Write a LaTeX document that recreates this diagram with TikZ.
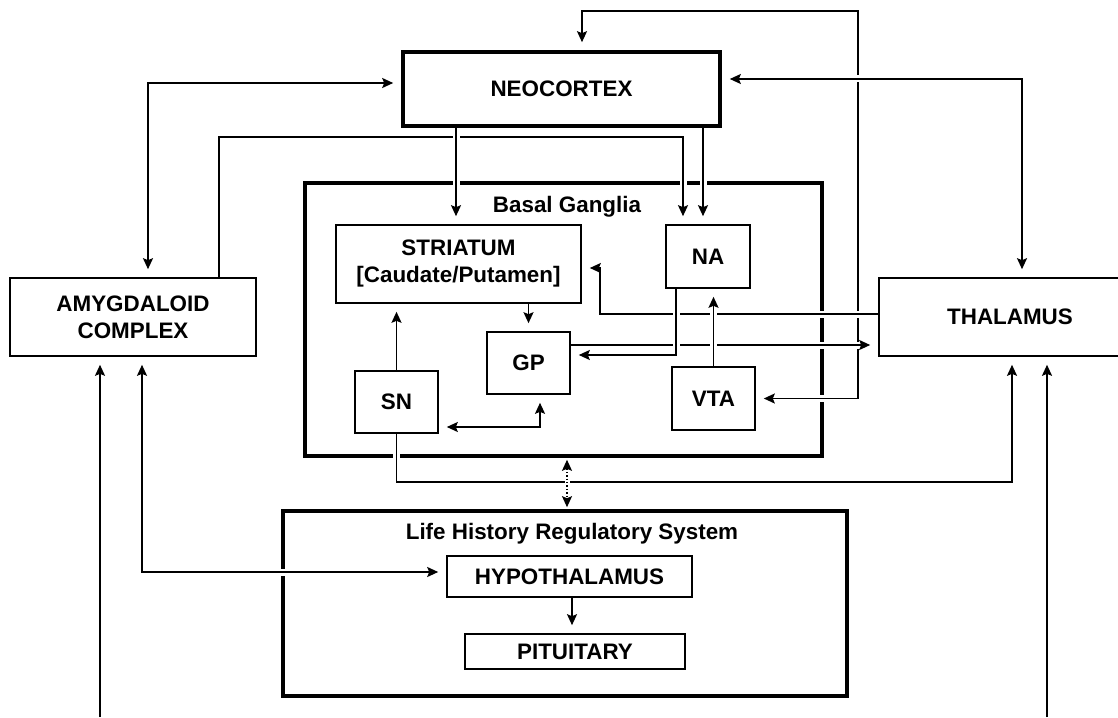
\documentclass[tikz,border=0pt]{standalone}
\usepackage{fontspec}
\setmainfont{Liberation Sans}
\usetikzlibrary{arrows.meta}

\begin{document}
\begin{tikzpicture}[x=0.5pt,y=-0.5pt,
    box/.style={draw,line width=0.8pt,inner sep=0pt,align=center,font=\bfseries\fontsize{11.2}{13.5}\selectfont},
    frame/.style={draw,line width=1.8pt,inner sep=0pt},
    lbl/.style={anchor=base,font=\bfseries\fontsize{11.2}{13.5}\selectfont},
    tip/.tip={Stealth[length=5.5pt,width=5pt,inset=1pt]},
    conn/.style={line width=0.9pt,-tip,shorten >=4pt,
        preaction={draw=white,line width=3.5pt,-,shorten >=4pt,shorten <=1.5pt}},
    both/.style={conn,tip-tip,shorten <=4pt}]

\useasboundingbox (0,0) rectangle (1118,717);
\clip (0,0) rectangle (1118,717);

% boxes
\node[box,line width=1.8pt,minimum width=158.5pt,minimum height=37pt] (nc) at (561.5,89) {NEOCORTEX};

\node[frame,minimum width=258.5pt,minimum height=136.5pt] (bg) at (563.5,319.5) {};
\node[lbl] (bgl) at (567,212) {Basal Ganglia};
\node[box,minimum width=122.5pt,minimum height=39pt] (str) at (458.5,264) {STRIATUM\\{[}Caudate/Putamen]};
\node[box,minimum width=42pt,minimum height=31.5pt] (na) at (708,256.5) {NA};
\node[box,minimum width=41.5pt,minimum height=31pt] (gp) at (528.5,363) {GP};
\node[box,minimum width=41.5pt,minimum height=31pt] (sn) at (396.5,402) {SN};
\node[box,minimum width=41.5pt,minimum height=31.5pt] (vta) at (713.5,398.5) {VTA};

\node[box,minimum width=123pt,minimum height=39pt] (amy) at (133,317) {AMYGDALOID\\COMPLEX};
\node[box,minimum width=131pt,minimum height=39pt] (thal) at (1010,317) {THALAMUS};

\node[frame,minimum width=282pt,minimum height=92.5pt] (lh) at (565,603.5) {};
\node[lbl] (lhl) at (572,539) {Life History Regulatory System};
\node[box,minimum width=122.5pt,minimum height=20.5pt] (hyp) at (569.5,576.5) {HYPOTHALAMUS};
\node[box,minimum width=110pt,minimum height=17.5pt] (pit) at (575,651.5) {PITUITARY};

% bends
\coordinate (loopR) at (858,11);
\coordinate (loopL) at (582,11);
\coordinate (ncR) at (1022,79);
\coordinate (ncL) at (148,83);
\coordinate (amyT) at (219,137);
\coordinate (naT) at (683,137);
\coordinate (xe) at (456,0);
\coordinate (xf) at (703,0);
\coordinate (xj) at (676,355);
\coordinate (yk) at (0,345);
\coordinate (yl) at (0,314);
\coordinate (bendl) at (600,268);
\coordinate (bendm) at (540,427);
\coordinate (bendn) at (1012,482);
\coordinate (inT) at (1047,717);
\coordinate (inA) at (100,717);
\coordinate (bendq) at (142,572);
\coordinate (xr) at (567,0);
\coordinate (xs) at (572,0);

% connections
\draw[both] (vta.east) -| (loopR) -- (loopL) -- (loopL |- nc.north);
\draw[both] (nc.east |- ncR) -- (ncR) -- (ncR |- thal.north);
\draw[both] (nc.west |- ncL) -- (ncL) -- (ncL |- amy.north);
\draw[conn] (amyT |- amy.north) -- (amyT) -- (naT) -- (naT |- na.north);
\draw[conn] (nc.south -| xe) -- (str.north -| xe);
\draw[conn] (nc.south -| xf) -- (na.north -| xf);
\draw[conn] (gp.north |- str.south) -- (gp.north);
\draw[conn] (sn.north) -- (sn.north |- str.south);
\draw[conn] (thal.west |- yl) -| (bendl) -- (str.east |- bendl);
\draw[conn] (gp.east |- yk) -- (thal.west |- yk);
\draw[conn] (na.south -| xj) -- (xj) -- (gp.east |- xj);
\draw[conn] (vta.north) -- (vta.north |- na.south);
\draw[both] (sn.east |- bendm) -- (bendm) -- (bendm |- gp.south);
\draw[conn] (sn.south) |- (bendn) -- (bendn |- thal.south);
\draw[densely dotted,line width=0.7pt,tip-tip,shorten <=1pt,shorten >=1pt,
    preaction={draw=white,line width=2.5pt,solid,-,shorten <=4pt,shorten >=4pt}] (bg.south -| xr) -- (lh.north -| xr);
\draw[conn] (inT) -- (inT |- thal.south);
\draw[conn] (inA) -- (inA |- amy.south);
\draw[both] (bendq |- amy.south) -- (bendq) -- (hyp.west |- bendq);
\draw[conn] (hyp.south -| xs) -- (pit.north -| xs);

% -------------------------------------------

\end{tikzpicture}
\end{document}
